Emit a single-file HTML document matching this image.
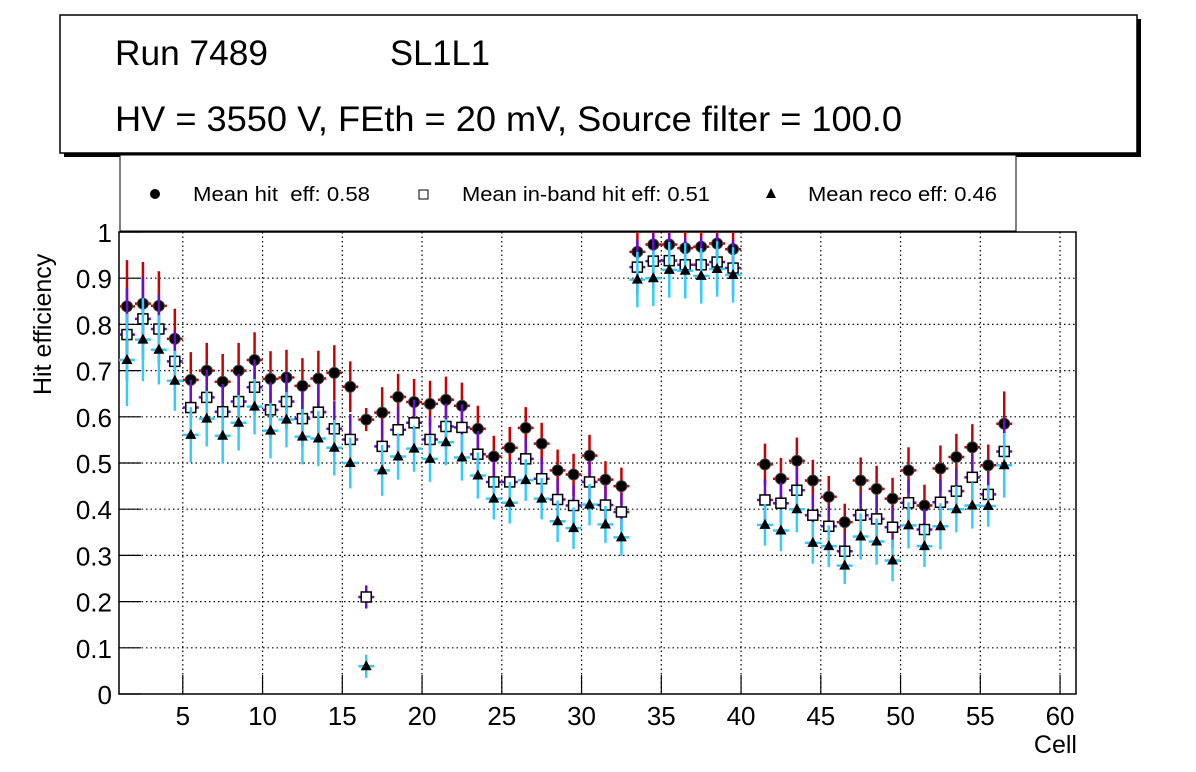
<!DOCTYPE html>
<html><head><meta charset="utf-8"><style>
body{margin:0;background:#fff;}
svg{display:block;font-family:"Liberation Sans",sans-serif;}
text{white-space:pre;}
</style></head><body>
<svg id="chart" width="1196" height="772" viewBox="0 0 1196 772">
<rect x="0" y="0" width="1196" height="772" fill="#fff"/>
<g>
<rect x="64" y="19" width="1077" height="138" fill="#000"/>
<rect x="60" y="15" width="1077" height="138" fill="#fff" stroke="#000" stroke-width="1.5"/>
<text x="115" y="65" font-size="35" textLength="153" lengthAdjust="spacingAndGlyphs">Run 7489</text>
<text x="390" y="65" font-size="35" textLength="100" lengthAdjust="spacingAndGlyphs">SL1L1</text>
<text x="115" y="131" font-size="35" textLength="787" lengthAdjust="spacingAndGlyphs">HV = 3550 V, FEth = 20 mV, Source filter = 100.0</text>
</g>
<g>
<rect x="120" y="155" width="896" height="76" fill="#fff" stroke="#000" stroke-width="1"/>
<circle cx="155" cy="194" r="5" fill="#000"/>
<text x="193" y="201" font-size="20" textLength="177" lengthAdjust="spacingAndGlyphs" xml:space="preserve">Mean hit  eff: 0.58</text>
<rect x="419" y="190" width="9" height="9" fill="#fff" stroke="#000" stroke-width="1"/>
<text x="462" y="201" font-size="20" textLength="248" lengthAdjust="spacingAndGlyphs">Mean in-band hit eff: 0.51</text>
<polygon points="771,188 776,198 766,198" fill="#000"/>
<text x="808" y="201" font-size="20" textLength="189" lengthAdjust="spacingAndGlyphs">Mean reco eff: 0.46</text>
</g>
<g id="grid"></g>
<g id="axes"></g>
<g id="marks"></g>
<text transform="translate(51,395) rotate(-90)" font-size="25" text-anchor="start">Hit efficiency</text>
<text x="1077" y="753" font-size="25" text-anchor="end">Cell</text>
</svg>
<script>
const cells = [1,2,3,4,5,6,7,8,9,10,11,12,13,14,15,16,17,18,19,20,21,22,23,24,25,26,27,28,29,30,31,32,33,34,35,36,37,38,39,41,42,43,44,45,46,47,48,49,50,51,52,53,54,55,56];
const hitEff = [0.839,0.845,0.84,0.769,0.68,0.7,0.676,0.7,0.723,0.682,0.685,0.667,0.683,0.695,0.665,0.594,0.609,0.643,0.632,0.628,0.637,0.624,0.574,0.514,0.533,0.576,0.542,0.484,0.475,0.516,0.464,0.45,0.957,0.973,0.973,0.965,0.968,0.975,0.963,0.497,0.466,0.505,0.462,0.427,0.372,0.462,0.444,0.423,0.484,0.408,0.488,0.513,0.534,0.495,0.585];
const inbandEff = [0.778,0.812,0.79,0.72,0.62,0.642,0.611,0.633,0.664,0.615,0.633,0.596,0.61,0.574,0.551,0.21,0.536,0.572,0.587,0.551,0.579,0.577,0.519,0.459,0.459,0.509,0.466,0.421,0.408,0.459,0.409,0.394,0.924,0.937,0.938,0.929,0.929,0.935,0.922,0.42,0.413,0.441,0.387,0.363,0.309,0.387,0.379,0.361,0.414,0.356,0.415,0.439,0.469,0.432,0.525];
const recoEff = [0.723,0.767,0.745,0.678,0.561,0.596,0.559,0.587,0.622,0.57,0.594,0.557,0.553,0.533,0.5,0.06,0.484,0.514,0.531,0.509,0.545,0.512,0.473,0.423,0.414,0.463,0.423,0.374,0.359,0.41,0.367,0.339,0.897,0.9,0.918,0.916,0.905,0.92,0.907,0.366,0.354,0.4,0.327,0.32,0.278,0.341,0.33,0.289,0.365,0.32,0.363,0.4,0.408,0.407,0.495];
const effErr = [0.1,0.09,0.075,0.065,0.06,0.06,0.06,0.06,0.06,0.06,0.06,0.06,0.06,0.06,0.055,0.055,0.055,0.05,0.05,0.05,0.05,0.05,0.05,0.045,0.045,0.045,0.045,0.045,0.045,0.045,0.04,0.04,0.06,0.06,0.06,0.06,0.06,0.06,0.06,0.045,0.045,0.05,0.045,0.045,0.04,0.05,0.05,0.045,0.05,0.045,0.05,0.05,0.05,0.045,0.07];
const smallErr = [0.025];
const xTicks = [5,10,15,20,25,30,35,40,45,50,55,60];
const yTicks = [0,0.1,0.2,0.3,0.4,0.5,0.6,0.7,0.8,0.9,1];
const yTickLabels = ["0","0.1","0.2","0.3","0.4","0.5","0.6","0.7","0.8","0.9","1"];

const X0=119, X1=1076, Y0=694, Y1=232, XMIN=1, XMAX=61;
function xs(v){return X0+(v-XMIN)/(XMAX-XMIN)*(X1-X0);}
function ys(v){return Y0-v*(Y0-Y1);}
const NS="http://www.w3.org/2000/svg";
function mk(tag,attrs,parent){const e=document.createElementNS(NS,tag);for(const k in attrs)e.setAttribute(k,attrs[k]);parent.appendChild(e);return e;}
const grid=document.getElementById('grid'),axes=document.getElementById('axes'),marks=document.getElementById('marks');

xTicks.forEach(t=>{
  const g=mk('line',{x1:xs(t),x2:xs(t),y1:Y1,y2:Y0,stroke:'#000','stroke-width':1.2,'stroke-dasharray':'1.5 3'},grid);
  
  
  const tk=mk('line',{x1:xs(t),x2:xs(t),y1:Y0,y2:Y0-19,stroke:'#000','stroke-width':1.2},axes);
  
  
  const lb=mk('text',{x:xs(t),y:Y0+31,'font-size':26,'text-anchor':'middle'},axes);
  lb.textContent=String(t);
  
  
});
yTicks.forEach((t,i)=>{
  if(t>0&&t<1){
    const g=mk('line',{x1:X0,x2:X1,y1:ys(t),y2:ys(t),stroke:'#000','stroke-width':1.2,'stroke-dasharray':'1.5 3'},grid);
    
    
  }
  const tk=mk('line',{x1:X0,x2:X0+22,y1:ys(t),y2:ys(t),stroke:'#000','stroke-width':1.2},axes);
  
  
  const lb=mk('text',{x:X0-7,y:ys(t)+10,'font-size':26,'text-anchor':'end'},axes);
  lb.textContent=yTickLabels[i];
  
  
});
const fr=mk('rect',{x:X0,y:Y1,width:X1-X0,height:Y0-Y1,fill:'none',stroke:'#000','stroke-width':1.5},axes);



const clipTop=Y1;
function series(vals,color,kind,name){
  const g=mk('g',{},marks);
  
  
  cells.forEach((c,i)=>{
    const v=vals[i]; if(v==null)return;
    const e=(c===16)?smallErr[0]:effErr[i];
    const cx=xs(c+0.5), cy=ys(v);
    const top=Math.max(clipTop,ys(Math.min(1,v+e))), bot=ys(Math.max(0,v-e));
    mk('line',{x1:cx,x2:cx,y1:top,y2:bot,stroke:color,'stroke-width':2.5},g);
    mk('line',{x1:xs(c),x2:xs(c+1),y1:cy,y2:cy,stroke:color,'stroke-width':2.5},g);
    let m;
    if(kind==='circle') m=mk('circle',{cx:cx,cy:cy,r:5.5,fill:'#000',stroke:'#444','stroke-width':1},g);
    else if(kind==='square') m=mk('rect',{x:cx-5,y:cy-5,width:10,height:10,fill:'#fff',stroke:'#000','stroke-width':1.5},g);
    else m=mk('polygon',{points:`${cx},${cy-6} ${cx+5.5},${cy+4} ${cx-5.5},${cy+4}`,fill:'#000'},g);
    
    
  });
}
series(hitEff,'#cc0000','circle','hit-efficiency-series');
series(inbandEff,'#6a0dcc','square','inband-efficiency-series');
series(recoEff,'#33ccff','triangle','reco-efficiency-series');
</script>
</body></html>
